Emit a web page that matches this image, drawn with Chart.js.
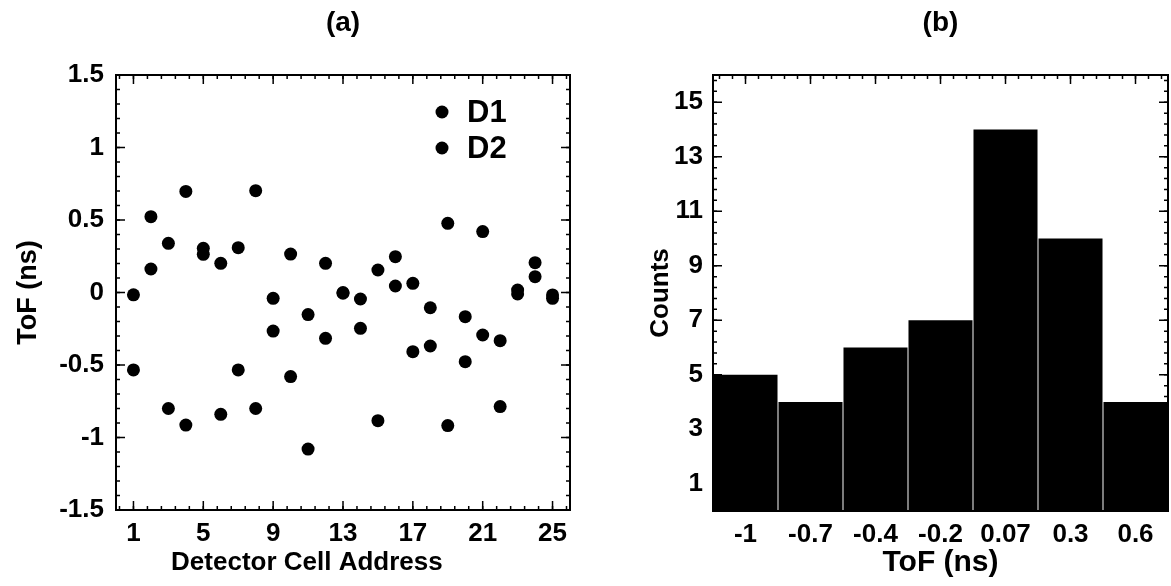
<!DOCTYPE html>
<html>
<head>
<meta charset="utf-8">
<title>ToF per detector cell</title>
<script src="https://cdn.jsdelivr.net/npm/chart.js@4.4.1/dist/chart.umd.min.js"></script>
<style>
  html, body { margin: 0; padding: 0; background: #fff; }
  #wrap { position: relative; width: 1171px; height: 586px; overflow: hidden; }
  #leftBox { position: absolute; left: 0; top: 0; width: 600px; height: 586px; }
  #rightBox { position: absolute; left: 600px; top: 0; width: 571px; height: 586px; }
</style>
</head>
<body>
<div id="wrap">
  <div id="leftBox"><canvas id="scatterChart"></canvas></div>
  <div id="rightBox"><canvas id="histChart"></canvas></div>
</div>
<script>
// (a) ToF for each detector cell, two detectors
const cellAddress = [1, 2, 3, 4, 5, 6, 7, 8, 9, 10, 11, 12, 13, 14, 15, 16, 17, 18, 19, 20, 21, 22, 23, 24, 25];
const tofD1 = [-0.016, 0.523, 0.339, 0.697, 0.305, 0.201, 0.309, 0.702, -0.04, 0.265, -0.152, 0.201, 0.0, -0.045, 0.155, 0.247, 0.063, -0.105, 0.477, -0.167, 0.42, -0.332, 0.017, 0.206, -0.017];
const tofD2 = [-0.534, 0.162, -0.80, -0.914, 0.263, -0.84, -0.534, -0.80, -0.266, -0.58, -1.08, -0.316, -0.005, -0.247, -0.884, 0.045, -0.408, -0.369, -0.918, -0.477, -0.293, -0.787, -0.01, 0.109, -0.04];
const cellTicks = [1, 5, 9, 13, 17, 21, 25];

// (b) histogram of ToF
const tofBins = ['-1', '-0.7', '-0.4', '-0.2', '0.07', '0.3', '0.6'];
const binCounts = [5, 4, 6, 7, 14, 10, 4];
const countTicks = [1, 3, 5, 7, 9, 11, 13, 15];

const FAMILY = '"Liberation Sans", Arial, sans-serif';
Chart.defaults.font.family = FAMILY;
Chart.defaults.color = '#000';
Chart.defaults.animation = false;

const tickFont = { size: 26, weight: 'bold', lineHeight: 1.2 };
const axisFont = { size: 26, weight: 'bold', lineHeight: 1.2 };
const headFont = { size: 28, weight: 'bold', lineHeight: 1.2 };
const noGrid = { display: false, drawTicks: false };

// positions of the small inward ticks on the frame
const steps = (from, to, step) => {
  const out = [];
  for (let v = from; v <= to + 1e-9; v += step) out.push(+v.toFixed(4));
  return out;
};

// box frame with inward major/minor ticks on all four sides
const frameTicks = {
  id: 'frameTicks',
  afterDatasetsDraw(chart, args, opts) {
    const { ctx, chartArea: a, scales } = chart;
    ctx.save();
    ctx.strokeStyle = '#000';
    ctx.lineWidth = 1.5;
    const drawX = (vals, len) => {
      vals.forEach(v => {
        const px = scales.x.getPixelForValue(v);
        if (px < a.left - 0.5 || px > a.right + 0.5) return;
        ctx.beginPath();
        ctx.moveTo(px, a.bottom); ctx.lineTo(px, a.bottom - len);
        ctx.moveTo(px, a.top); ctx.lineTo(px, a.top + len);
        ctx.stroke();
      });
    };
    const drawY = (vals, len) => {
      vals.forEach(v => {
        const py = scales.y.getPixelForValue(v);
        if (py < a.top - 0.5 || py > a.bottom + 0.5) return;
        ctx.beginPath();
        ctx.moveTo(a.left, py); ctx.lineTo(a.left + len, py);
        ctx.moveTo(a.right, py); ctx.lineTo(a.right - len, py);
        ctx.stroke();
      });
    };
    drawX(opts.xMinor, 4);
    drawX(opts.xMajor, 9);
    drawY(opts.yMinor, 4);
    drawY(opts.yMajor, 9);
    ctx.lineWidth = 2;
    ctx.strokeRect(a.left, a.top, a.width, a.height);
    ctx.restore();
  }
};

// legend drawn inside the plot, top right
const insetLegend = {
  id: 'insetLegend',
  afterDatasetsDraw(chart, args, opts) {
    if (!opts.display) return;
    const { ctx, chartArea: a } = chart;
    ctx.save();
    chart.data.datasets.forEach((ds, i) => {
      const x = a.left + opts.left;
      const y = a.top + opts.top + i * opts.gap;
      ctx.beginPath();
      ctx.arc(x, y, ds.pointRadius, 0, Math.PI * 2);
      ctx.fillStyle = ds.backgroundColor;
      ctx.fill();
      ctx.fillStyle = '#000';
      ctx.font = opts.font;
      ctx.textBaseline = 'middle';
      ctx.fillText(ds.label, x + 25, y + 1);
    });
    ctx.restore();
  }
};

new Chart(document.getElementById('scatterChart'), {
  type: 'scatter',
  data: {
    datasets: [
      {
        label: 'D1',
        data: cellAddress.map((c, i) => ({ x: c, y: tofD1[i] })),
        backgroundColor: '#000',
        borderWidth: 0,
        pointRadius: 6.5,
        pointHoverRadius: 6.5,
      },
      {
        label: 'D2',
        data: cellAddress.map((c, i) => ({ x: c, y: tofD2[i] })),
        backgroundColor: '#000',
        borderWidth: 0,
        pointRadius: 6.5,
        pointHoverRadius: 6.5,
      },
    ],
  },
  options: {
    responsive: true,
    maintainAspectRatio: false,
    layout: { padding: { left: 0, right: 30, top: 0, bottom: 0 } },
    scales: {
      x: {
        type: 'linear',
        min: 0,
        max: 26,
        afterBuildTicks: scale => { scale.ticks = cellTicks.map(v => ({ value: v })); },
        afterFit: scale => { scale.height = 76; },
        grid: noGrid,
        border: { display: false },
        ticks: { font: tickFont, padding: 8, maxRotation: 0, autoSkip: false },
        // trailing spaces push the centred title left, as in the original
        title: { display: true, text: 'Detector Cell Address\u00a0\u00a0\u00a0\u00a0\u00a0\u00a0\u00a0\u00a0\u00a0\u00a0', font: axisFont, padding: { bottom: 8 } },
      },
      y: {
        min: -1.5,
        max: 1.5,
        afterFit: scale => { scale.width = 116; },
        grid: noGrid,
        border: { display: false },
        ticks: { stepSize: 0.5, font: tickFont, padding: 12, callback: v => String(v) },
        title: { display: true, text: 'ToF (ns)', font: { size: 27, weight: 'bold', lineHeight: 1.2 }, padding: { top: 12 } },
      },
    },
    plugins: {
      legend: { display: false },
      tooltip: { enabled: false },
      title: {
        display: true,
        text: '(a)',
        fullSize: false,
        font: headFont,
        padding: { top: 6, bottom: 35.4 },
      },
      frameTicks: {
        xMajor: cellTicks,
        xMinor: steps(0.2, 25.8, 0.8),
        yMajor: steps(-1.5, 1.5, 0.5),
        yMinor: steps(-1.5, 1.5, 0.1),
      },
      insetLegend: { display: true, left: 326, top: 37, gap: 36, font: 'bold 31px ' + FAMILY },
    },
  },
  plugins: [frameTicks, insetLegend],
});

new Chart(document.getElementById('histChart'), {
  type: 'bar',
  data: {
    labels: tofBins,
    datasets: [{
      label: 'Counts',
      data: binCounts,
      backgroundColor: '#000',
      borderWidth: 0,
      barPercentage: 0.985,
      categoryPercentage: 1.0,
    }],
  },
  options: {
    responsive: true,
    maintainAspectRatio: false,
    layout: { padding: { left: 0, right: 3, top: 0, bottom: 0 } },
    scales: {
      x: {
        afterFit: scale => { scale.height = 75; },
        grid: noGrid,
        border: { display: false },
        ticks: { font: tickFont, padding: 8, maxRotation: 0, autoSkip: false },
        title: { display: true, text: 'ToF (ns)', font: { size: 30, weight: 'bold', lineHeight: 1.2 }, padding: { bottom: 5 } },
      },
      y: {
        min: 0,
        max: 16,
        afterBuildTicks: scale => { scale.ticks = countTicks.map(v => ({ value: v })); },
        afterFit: scale => { scale.width = 113; },
        grid: noGrid,
        border: { display: false },
        ticks: { font: tickFont, padding: 10 },
        title: { display: true, text: 'Counts', font: axisFont, padding: { top: 45 } },
      },
    },
    plugins: {
      legend: { display: false },
      tooltip: { enabled: false },
      title: {
        display: true,
        text: '(b)',
        fullSize: false,
        font: headFont,
        padding: { top: 6, bottom: 35.4 },
      },
      frameTicks: {
        xMajor: steps(0, 6, 1),
        xMinor: steps(-0.4, 6.4, 0.2),
        yMajor: countTicks,
        yMinor: steps(0.2, 15.8, 0.4),
      },
      insetLegend: { display: false },
    },
  },
  plugins: [frameTicks, insetLegend],
});
</script>
</body>
</html>
